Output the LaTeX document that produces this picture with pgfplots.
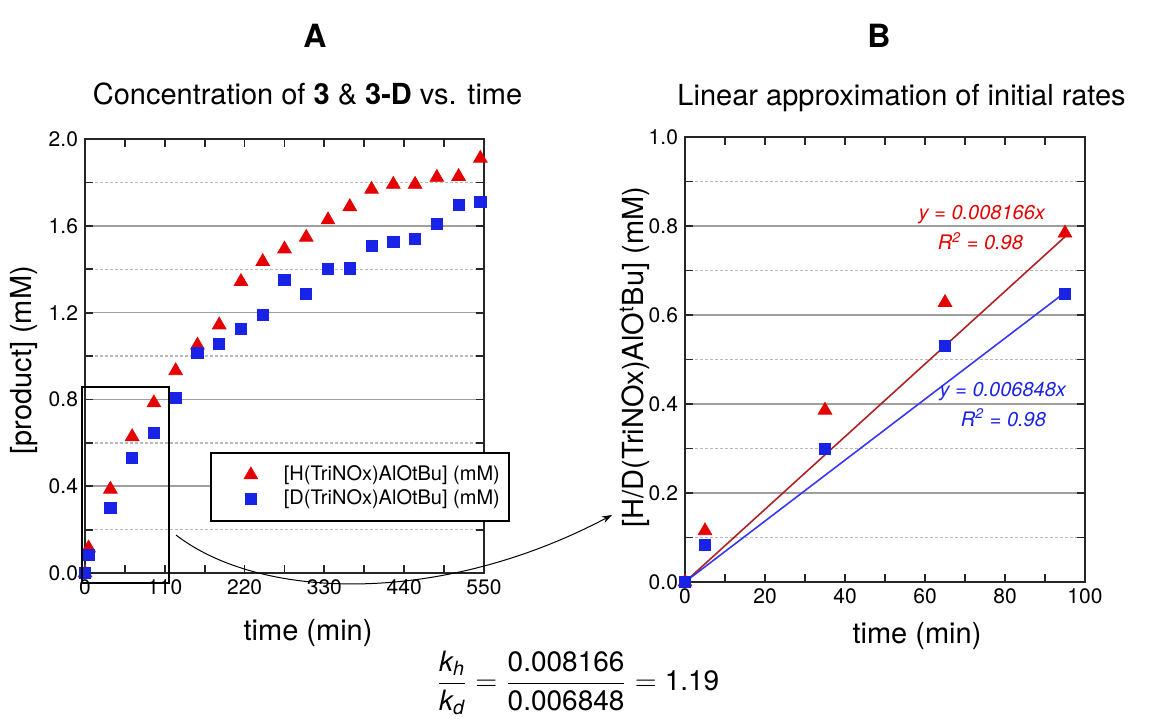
\documentclass[border=0pt]{standalone}
\usepackage{fontspec}
\setmainfont{TeX Gyre Heros}
\usepackage{amsmath}
\usepackage{pgfplots}
\pgfplotsset{compat=1.18}
\usetikzlibrary{arrows.meta}

\definecolor{mkred}{RGB}{228,0,0}
\definecolor{mkblue}{RGB}{25,35,230}
\definecolor{fitred}{RGB}{175,35,35}
\definecolor{fitblue}{RGB}{55,55,245}

\pgfplotsset{
  panel/.style={
    scale only axis, anchor=south west, clip=false,
    axis line style={line width=1.1pt, black!85},
    tick style={line width=0.9pt, black!85},
    major tick length=4pt, minor tick length=4pt,
    tick align=inside,
    ymajorgrids, yminorgrids,
    major grid style={line width=0.8pt, gray!75},
    minor grid style={line width=0.7pt, gray!55, dash pattern=on 1.5pt off 1pt},
    tick label style={font=\fontsize{10.5}{12}\selectfont},
    label style={font=\fontsize{14.5}{16}\selectfont},
    /pgf/number format/assume math mode=true,
    yticklabel style={/pgf/number format/.cd, fixed, fixed zerofill, precision=1},
    minor x tick num=1, minor y tick num=1,
  },
  redpts/.style={only marks, mark=triangle*, mark size=3.9pt, color=mkred},
  bluepts/.style={only marks, mark=square*, mark size=2.8pt, color=mkblue},
}

\begin{document}
\begin{tikzpicture}
\path[use as bounding box] (0,0) rectangle (576.5pt,360pt);

% A: full time course
\begin{axis}[panel,
  at={(42.5pt,73.5pt)}, width=199.5pt, height=217pt,
  xmin=0, xmax=550, ymin=0, ymax=2.0,
  xtick={0,110,220,330,440,550}, ytick={0,0.4,0.8,1.2,1.6,2.0},
  xlabel={time (min)}, ylabel={[product] (mM)},
  xlabel style={at={(axis description cs:0.559,-0.138)}, anchor=center},
  ylabel style={at={(axis description cs:-0.153,0.49)}, anchor=center},
  legend style={at={(0.313,0.279)}, anchor=north west, draw=black, line width=1pt,
    fill=white, inner xsep=1.5pt, inner ysep=5pt, row sep=0pt, column sep=0pt,
    font=\fontsize{10}{12}\selectfont, nodes={inner xsep=3pt, inner ysep=1.5pt}},
  legend cell align=left,
  legend image code/.code={\path (0pt,0pt) (31pt,0pt); \draw[line width=0.4pt,#1] plot coordinates {(18pt,0pt)};},
]
\addplot[redpts] coordinates {
  (0,0) (5,0.115) (35,0.386) (65,0.628) (95,0.784) (125,0.932) (155,1.05)
  (185,1.143) (215,1.343) (245,1.435) (275,1.493) (305,1.547) (335,1.627)
  (365,1.688) (395,1.768) (425,1.791) (455,1.791) (485,1.823) (515,1.827) (545,1.911)};
\addlegendentry{[H(TriNOx)AlOtBu] (mM)}
\addplot[bluepts] coordinates {
  (0,0) (5,0.083) (35,0.30) (65,0.53) (95,0.647) (125,0.806) (155,1.013)
  (185,1.056) (215,1.125) (245,1.19) (275,1.351) (305,1.286) (335,1.401)
  (365,1.404) (395,1.507) (425,1.527) (455,1.54) (485,1.607) (515,1.696) (545,1.711)};
\addlegendentry{[D(TriNOx)AlOtBu] (mM)}
\end{axis}

% B: initial rates
\begin{axis}[panel,
  at={(342.5pt,69pt)}, width=200pt, height=222.5pt,
  xmin=0, xmax=100, ymin=0, ymax=1.0,
  xtick={0,20,40,60,80,100}, ytick={0,0.2,0.4,0.6,0.8,1.0},
  xlabel={time (min)}, ylabel={[H/D(TriNOx)AlO\textsuperscript{t}Bu] (mM)},
  xlabel style={at={(axis description cs:0.58,-0.121)}, anchor=center},
  ylabel style={at={(axis description cs:-0.125,0.505)}, anchor=center},
]
\addplot[redpts] coordinates {(0,0) (5,0.115) (35,0.386) (65,0.628) (95,0.784)};
\addplot[bluepts] coordinates {(0,0) (5,0.083) (35,0.30) (65,0.53) (95,0.647)};
\addplot[fitred, line width=0.8pt] coordinates {(0,0) (95,0.7758)};
\addplot[fitblue, line width=0.8pt] coordinates {(0,0) (95,0.6506)};
\node[anchor=east, text=mkred, font=\itshape\fontsize{10}{12}\selectfont] at (axis cs:91.75,0.825) {y = 0.008166x};
\node[anchor=east, text=mkred, font=\itshape\fontsize{10}{12}\selectfont] at (axis cs:86.25,0.766) {R\textsuperscript{2} = 0.98};
\node[anchor=east, text=mkblue, font=\itshape\fontsize{10}{12}\selectfont] at (axis cs:97,0.427) {y = 0.006848x};
\node[anchor=east, text=mkblue, font=\itshape\fontsize{10}{12}\selectfont] at (axis cs:92,0.369) {R\textsuperscript{2} = 0.98};
\end{axis}

% zoom box and arrow
\draw[line width=1pt] (41pt,68.5pt) rectangle (84.5pt,166.5pt);
\draw[line width=0.5pt, -{Stealth[length=5pt,width=3.5pt]}]
  (88pt,92.5pt) .. controls (130pt,60pt) and (220pt,57pt) .. (306pt,102.5pt);

% titles
\node[anchor=base, font=\bfseries\fontsize{16}{18}\selectfont] at (157.5pt,336.5pt) {A};
\node[anchor=base, font=\bfseries\fontsize{16}{18}\selectfont] at (439.5pt,336.5pt) {B};
\node[anchor=base, font=\fontsize{14.5}{16}\selectfont] at (153.8pt,308pt)
  {Concentration of \textbf{3} \& \textbf{3-D} vs. time};
\node[anchor=base, font=\fontsize{14.5}{16}\selectfont] at (450.8pt,307.5pt)
  {Linear approximation of initial rates};

% ratio
\node[font=\fontsize{14}{16}\selectfont, inner sep=1pt] at (289pt,18.5pt)
  {$\dfrac{\text{\itshape k}_{\text{\itshape h}}}{\text{\itshape k}_{\text{\itshape d}}}
   = \dfrac{\text{0.008166}}{\text{0.006848}} = \text{1.19}$};
\end{tikzpicture}
\end{document}
